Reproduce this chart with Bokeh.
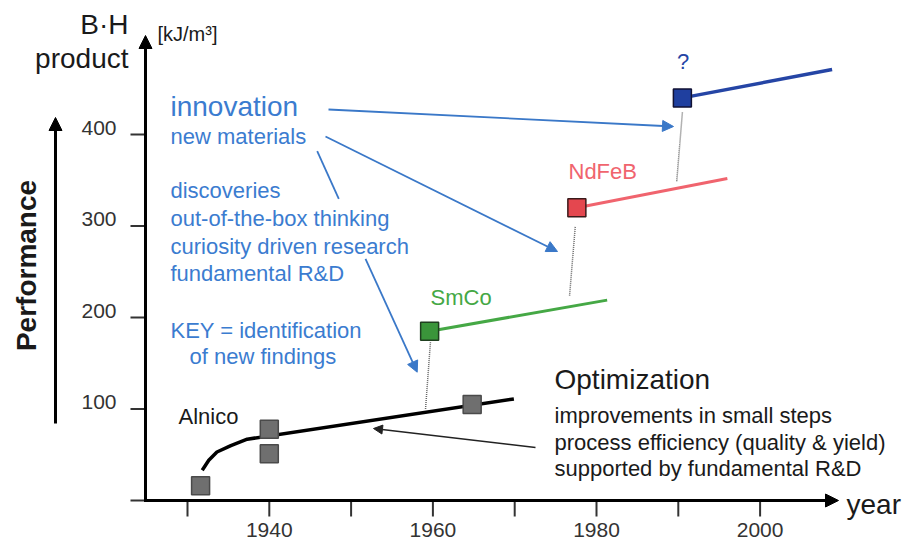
import math
from bokeh.plotting import figure
from bokeh.models import Range1d, Arrow, NormalHead
from bokeh.core.properties import value
from bokeh.embed import file_html
from bokeh.resources import INLINE

# ---------------- data ----------------
alnico_year = [1931.6, 1940.0, 1940.0, 1964.8]
alnico_bh = [16, 51, 78, 105]
alnico_trend_year = [1931.8, 1932.6, 1933.6, 1935.3, 1937.3, 1969.9]
alnico_trend_bh = [33, 44, 53, 60, 67, 111]

smco_year = [1959.6, 1981.3]
smco_bh = [185, 219]
ndfeb_year = [1977.6, 1996.0]
ndfeb_bh = [320, 352]
future_year = [1990.5, 2008.8]
future_bh = [440, 471]

# dotted "jump" connectors (from new material down to previous trend)
jump_x0 = [1959.7, 1977.4, 1990.5]
jump_y0 = [173, 299, 424]
jump_x1 = [1959.1, 1976.7, 1989.8]
jump_y1 = [100, 223, 348]

x_ticks = [1930, 1940, 1950, 1960, 1970, 1980, 1990, 2000]
x_tick_labels = ["", "1940", "", "1960", "", "1980", "", "2000"]
y_ticks = [0, 100, 200, 300, 400]
y_tick_labels = ["", "100", "200", "300", "400"]

# ---------------- layout constants ----------------
W, H = 902, 542
PXY = 8.18      # pixels per year
PXV = 0.915     # pixels per kJ/m3
ORIG_X = 187    # canvas px of year 1930
ORIG_Y = 500    # canvas px (from top) of value 0
BASE_SHIFT = 0.33  # baseline correction, fraction of font size

x_start = 1930 - ORIG_X / PXY
y_end = ORIG_Y / PXV
y_start = -(H - ORIG_Y) / PXV


def yr(sx):
    return 1930 + (sx - ORIG_X) / PXY


def bh(sy):
    return (ORIG_Y - sy) / PXV


FONT = value("Liberation Sans")
BLUE_TXT = "#3b7cd0"
BLUE_ARR = "#3a78c8"
GREEN = "#45a845"
RED = "#f0646e"
DKBLUE = "#2545a5"
TXT = "#1a1a1a"

p = figure(width=W, height=H, output_backend="svg", toolbar_location=None,
           x_range=Range1d(x_start, x_start + W / PXY),
           y_range=Range1d(y_start, y_end),
           x_axis_location=None, y_axis_location=None, min_border=0,
           background_fill_color="white", border_fill_color="white")
p.outline_line_color = None
p.grid.visible = False

# ---------------- axes (drawn by hand as arrows) ----------------
p.add_layout(Arrow(x_start=yr(145), y_start=bh(501.5), x_end=yr(145), y_end=bh(35),
                   line_width=3, line_color="black",
                   end=NormalHead(size=13, fill_color="black", line_color="black", line_width=1)))
p.add_layout(Arrow(x_start=yr(143.5), y_start=0, x_end=yr(838), y_end=0,
                   line_width=3, line_color="black",
                   end=NormalHead(size=13, fill_color="black", line_color="black", line_width=1)))
# Performance arrow
p.add_layout(Arrow(x_start=yr(55), y_start=bh(423), x_end=yr(55), y_end=bh(117),
                   line_width=3, line_color="black",
                   end=NormalHead(size=13, fill_color="black", line_color="black", line_width=1)))

# ticks
p.segment(x0=x_ticks, y0=[0] * len(x_ticks), x1=x_ticks, y1=[-16 / PXV] * len(x_ticks),
          line_color="#333333", line_width=2)
p.segment(x0=[yr(130)] * len(y_ticks), y0=y_ticks, x1=[yr(145)] * len(y_ticks), y1=y_ticks,
          line_color="#333333", line_width=2)
TICK_FS = 21
p.text(x=x_ticks, y=[bh(536 - BASE_SHIFT * TICK_FS)] * len(x_ticks), text=x_tick_labels,
       text_font=FONT, text_font_size=f"{TICK_FS}px", text_color="#333333",
       text_align="center", text_baseline="alphabetic")
p.text(x=[yr(116)] * len(y_ticks), y=[v + BASE_SHIFT * TICK_FS / PXV for v in y_ticks],
       text=y_tick_labels, text_font=FONT, text_font_size=f"{TICK_FS}px",
       text_color="#333333", text_align="right", text_baseline="alphabetic")

# ---------------- connectors ----------------
p.segment(x0=jump_x0, y0=jump_y0, x1=jump_x1, y1=jump_y1,
          line_color="#666666", line_width=1.5, line_dash="1 1")

# ---------------- trend lines ----------------
p.line(alnico_trend_year, alnico_trend_bh, line_color="black", line_width=3.5)
p.line(smco_year, smco_bh, line_color=GREEN, line_width=3)
p.line(ndfeb_year, ndfeb_bh, line_color=RED, line_width=3)
p.line(future_year, future_bh, line_color=DKBLUE, line_width=3.5)

# ---------------- squares ----------------
p.scatter(alnico_year, alnico_bh, marker="square", size=18,
          fill_color="#6f6f6f", line_color="#4a4a4a", line_width=1.5)
p.scatter(smco_year[:1], smco_bh[:1], marker="square", size=18,
          fill_color="#3a953a", line_color="#1f3f1f", line_width=1.5)
p.scatter(ndfeb_year[:1], ndfeb_bh[:1], marker="square", size=18,
          fill_color="#e4474f", line_color="#3a1a1a", line_width=1.5)
p.scatter(future_year[:1], future_bh[:1], marker="square", size=18,
          fill_color="#1f3f9f", line_color="#111133", line_width=1.5)

# ---------------- annotation arrows ----------------
def blue_head():
    return NormalHead(size=11, fill_color=BLUE_ARR, line_color=BLUE_ARR, line_width=1)

p.add_layout(Arrow(x_start=yr(328), y_start=bh(109), x_end=yr(673), y_end=bh(126),
                   line_color=BLUE_ARR, line_width=1.8, end=blue_head()))
p.add_layout(Arrow(x_start=yr(325), y_start=bh(136), x_end=yr(557), y_end=bh(251),
                   line_color=BLUE_ARR, line_width=1.8, end=blue_head()))
p.segment(x0=[yr(316.7)], y0=[bh(150.7)], x1=[yr(338.3)], y1=[bh(198.3)],
          line_color=BLUE_ARR, line_width=1.8)
p.add_layout(Arrow(x_start=yr(365), y_start=bh(258.3), x_end=yr(416.7), y_end=bh(371.7),
                   line_color=BLUE_ARR, line_width=1.8, end=blue_head()))
p.add_layout(Arrow(x_start=yr(535), y_start=bh(447), x_end=yr(373), y_end=bh(428),
                   line_color="#222222", line_width=1.5,
                   end=NormalHead(size=9, fill_color="#222222", line_color="#222222", line_width=1)))

# ---------------- texts ----------------
texts = [
    # text, sx, sy(baseline), size, color, align, style
    ("innovation", 170, 115, 28, BLUE_TXT, "left", "normal"),
    ("new materials", 170, 143, 22, BLUE_TXT, "left", "normal"),
    ("discoveries", 170, 197, 22, BLUE_TXT, "left", "normal"),
    ("out-of-the-box thinking", 170, 225, 22, BLUE_TXT, "left", "normal"),
    ("curiosity driven research", 170, 253, 22, BLUE_TXT, "left", "normal"),
    ("fundamental R&D", 170, 280, 22, BLUE_TXT, "left", "normal"),
    ("KEY = identification", 170, 337, 22, BLUE_TXT, "left", "normal"),
    ("of new findings", 189, 363, 22, BLUE_TXT, "left", "normal"),
    ("Optimization", 554, 388, 28, TXT, "left", "normal"),
    ("improvements in small steps", 554, 422, 22, TXT, "left", "normal"),
    ("process efficiency (quality & yield)", 554, 449, 22, TXT, "left", "normal"),
    ("supported by fundamental R&D", 554, 475, 22, TXT, "left", "normal"),
    ("year", 846, 513, 28, TXT, "left", "normal"),
    ("B\u00b7H", 128, 33, 28, TXT, "right", "normal"),
    ("product", 128, 67, 28, TXT, "right", "normal"),
    ("[kJ/m\u00b3]", 157, 40, 20, TXT, "left", "normal"),
    ("Alnico", 178, 423, 22, TXT, "left", "normal"),
    ("SmCo", 430, 304, 22, GREEN, "left", "normal"),
    ("NdFeB", 568, 178, 22, RED, "left", "normal"),
    ("?", 682.5, 68, 22, DKBLUE, "center", "normal"),
]
for t, sx, sy, size, color, align, style in texts:
    p.text(x=[yr(sx)], y=[bh(sy - BASE_SHIFT * size)], text=[t], text_font=FONT,
           text_font_size=f"{size}px", text_color=color, text_align=align,
           text_baseline="alphabetic", text_font_style=style)

p.text(x=[yr(26)], y=[bh(265)], text=["Performance"], angle=math.pi / 2,
       text_font=FONT, text_font_size="28px", text_font_style="bold",
       text_color=TXT, text_align="center", text_baseline="middle")

open("out.html", "w").write(file_html(p, INLINE))
